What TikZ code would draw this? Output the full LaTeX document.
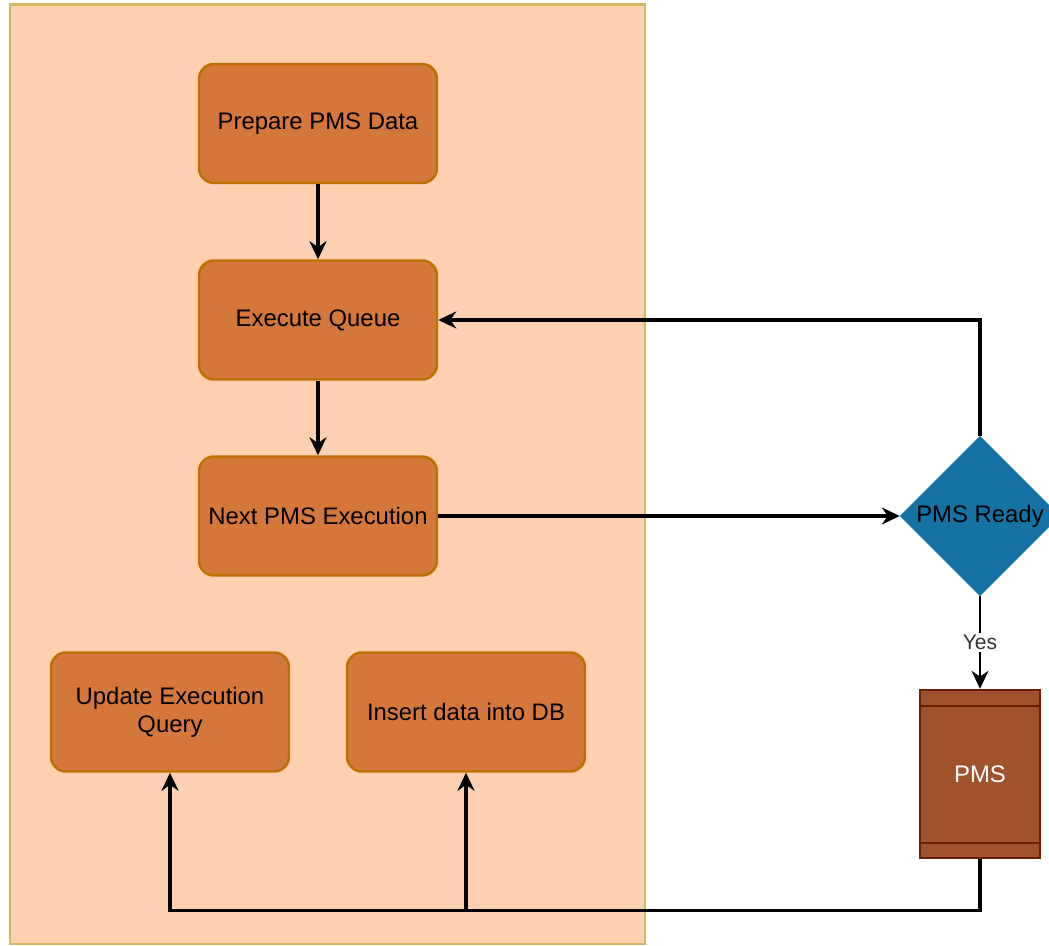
\documentclass[tikz,border=0pt]{standalone}
\usepackage{fontspec}
\setmainfont{Liberation Sans}
\usepackage{tikz}
\usetikzlibrary{positioning,shapes.geometric,arrows.meta,calc}

\definecolor{lanefill}{HTML}{FDD0B1}
\definecolor{laneline}{HTML}{D6B656}
\definecolor{taskfill}{HTML}{D5763A}
\definecolor{taskline}{HTML}{BD7000}
\definecolor{checkfill}{HTML}{1573A3}
\definecolor{checkline}{HTML}{10739E}
\definecolor{pmsfill}{HTML}{A0522D}
\definecolor{pmsline}{HTML}{6D1F00}

\begin{document}
\begin{tikzpicture}[
    task/.style={rectangle, draw=taskline, line width=1.4pt, rounded corners=0.3cm, fill=taskfill, minimum width=4.76cm, minimum height=2.38cm, align=center, text=black, font=\fontsize{13.6}{16}\selectfont},
    check/.style={diamond, draw=checkline, line width=0.8pt, fill=checkfill, minimum width=3.18cm, minimum height=3.18cm, inner sep=0pt, text=black, font=\fontsize{13.6}{16}\selectfont},
    pmsbox/.style={rectangle, draw=pmsline, line width=1.4pt, fill=pmsfill, minimum width=2.4cm, minimum height=3.36cm, text=white, font=\fontsize{13.6}{16}\selectfont},
    link/.style={-{Stealth[length=0.36cm,width=0.34cm]}, line width=1.9pt}
]
    \useasboundingbox (0,0) rectangle (20.98,-18.92);

    % lane behind the tasks
    \draw[draw=laneline, fill=lanefill, line width=1.7pt] (0.2,-0.1) rectangle (12.9,-18.88);

    \node[task] (prep) at (6.36,-2.47) {Prepare PMS Data};
    \node[task] (exec) at (6.36,-6.4) {Execute Queue};
    \node[task] (next) at (6.36,-10.32) {Next PMS Execution};
    \node[task] (update) at (3.4,-14.24) {Update Execution\\Query};
    \node[task] (insert) at (9.32,-14.24) {Insert data into DB};

    \node[check] (ready) at (19.6,-10.32) {PMS Ready};
    \node[pmsbox] (pms) at (19.6,-15.48) {PMS};
    \draw[pmsline, line width=1.4pt] ([yshift=-0.34cm]pms.north west) -- ([yshift=-0.34cm]pms.north east);
    \draw[pmsline, line width=1.4pt] ([yshift=0.32cm]pms.south west) -- ([yshift=0.32cm]pms.south east);

    \draw[link] (prep) -- (exec);
    \draw[link] (exec) -- (next);
    \draw[link] (next) -- (ready);
    \draw[link] (ready.north) |- (exec.east);
    \draw[link, line width=1pt] (ready) -- node[fill=white, inner sep=1pt, text=black!80, font=\fontsize{12}{14}\selectfont] {Yes} (pms);
    \draw[link] (pms.south) -- ++(0,-1.02) -| (insert.south);
    \draw[link] (pms.south) -- ++(0,-1.02) -| (update.south);
\end{tikzpicture}
\end{document}
